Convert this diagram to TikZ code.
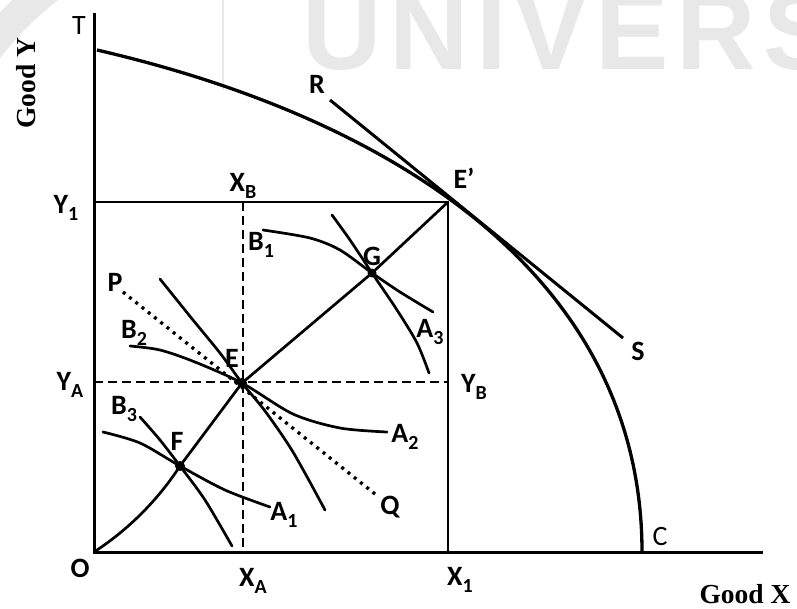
\documentclass[tikz,border=0pt]{standalone}
\usepackage{fontspec}
\setmainfont{Carlito}
\newfontfamily\tnr{Liberation Serif}
\newfontfamily\wmfont{Liberation Sans}
\definecolor{wmgray}{RGB}{232,232,232}
\newcommand\sbs[1]{\raisebox{-0.27em}{\fontsize{20}{20}\selectfont #1}}
\begin{document}
\begin{tikzpicture}[x=1pt,y=-1pt,
  lab/.style={font=\fontsize{28}{30}\selectfont\bfseries, inner sep=0pt},
  labr/.style={font=\fontsize{28}{30}\selectfont, inner sep=0pt},
  axl/.style={font=\tnr\bfseries\fontsize{27.5}{30}\selectfont, inner sep=0pt},
  wml/.style={anchor=base west, text=wmgray, font=\wmfont\bfseries\fontsize{110}{110}\selectfont, inner sep=0pt},
  axis/.style={line width=3pt},
  boxline/.style={line width=2.8pt},
  curve/.style={line width=2.7pt, line cap=round},
  dashln/.style={line width=2.6pt, dash pattern=on 9pt off 5pt},
  dotln/.style={line width=3.3pt, dash pattern=on 3pt off 5pt},
  pt/.style={circle, fill=black, inner sep=0pt, minimum size=10pt}]
\useasboundingbox (0,0) rectangle (797,608);
% watermark
\draw[wmgray, line width=30pt] (250,250) ++(180:330) arc[start angle=180, end angle=270, radius=330];
\draw[wmgray, line width=1.5pt] (223,0) -- (223,90);
\node[wml] (w1) at (302,69) {U};
\node[wml] (w2) at (389,69) {N};
\node[wml] (w3) at (476,69) {I};
\node[wml] (w4) at (514,69) {V};
\node[wml] (w5) at (595,69) {E};
\node[wml] (w6) at (676,69) {R};
\node[wml] (w7) at (763,69) {S};
% coordinates
\coordinate (O) at (94,552);
\coordinate (Ytop) at (94,13);
\coordinate (Xend) at (763,552);
\coordinate (T0) at (97,50);
\coordinate (C0) at (642,552);
\coordinate (Ep) at (448,202);
\coordinate (Y1) at (94,202);
\coordinate (X1) at (448,552);
\coordinate (XBt) at (243,202);
\coordinate (XAb) at (243,552);
\coordinate (YAl) at (94,382);
\coordinate (YBr) at (448,382);
\coordinate (Rend) at (330,100);
\coordinate (Send) at (623,338);
\coordinate (Pend) at (123,292);
\coordinate (Qend) at (375,494);
\coordinate (F) at (180,466);
\coordinate (E) at (242,383);
\coordinate (G) at (372,273);
% axes
\draw[axis] (Ytop) -- (O) -- (Xend);
% PPF
\draw[line width=3.3pt] (T0) .. controls (400,120) and (642,280) .. (C0);
% tangent RS
\draw[line width=3pt] (Rend) -- (Send);
% box
\draw[boxline] (Y1) -- (Ep) -- (X1);
% dashed
\draw[dashln] (XBt) -- (XAb);
\draw[dashln] (YAl) -- (YBr);
% dotted PQ
\draw[dotln] (Pend) -- (Qend);
% contract curve
\draw[curve] (O) .. controls (128,530) and (158,500) .. (F) -- (E) -- (G) -- (Ep);
% indifference curves through F
\draw[curve] plot[smooth] coordinates {(103,432) (140,443) (180,466) (225,490) (270,507)};
\draw[curve] plot[smooth] coordinates {(140,417) (160,440) (180,466) (205,500) (232,546)};
% through E
\draw[curve] plot[smooth] coordinates {(130,346) (160,350) (195,362) (242,383) (293,414) (340,428) (387,432)};
\draw[curve] plot[smooth] coordinates {(160,279) (193,320) (220,353) (242,383) (265,411) (293,452) (325,510)};
% through G
\draw[curve] plot[smooth] coordinates {(263,230) (310,238) (340,250) (372,273) (400,292) (433,312)};
\draw[curve] plot[smooth] coordinates {(332,215) (350,240) (372,273) (397,310) (417,343) (429,373)};
% points
\node[pt] (Fd) at (F) {};
\node[pt] (Ed) at (E) {};
\node[pt, minimum size=9pt] (Gd) at (G) {};
% labels
\node[labr] (lT) at (79,26) {T};
\node[labr] (lC) at (660,537) {C};
\node[axl, rotate=90] (lgy) at (26,83) {Good Y};
\node[axl] (lgx) at (745,594) {Good X};
\node[lab] (lR) at (317,84) {R};
\node[lab] (lS) at (638,351) {S};
\node[lab] (lEp) at (464,178) {E’};
\node[lab] (lY1) at (66,208) {Y\sbs{1}};
\node[lab] (lXB) at (243,186) {X\sbs{B}};
\node[lab] (lB1) at (261,245) {B\sbs{1}};
\node[lab] (lP) at (115,282) {P};
\node[lab] (lB2) at (134,333) {B\sbs{2}};
\node[lab] (lE) at (232,358) {E};
\node[lab] (lYA) at (70,385) {Y\sbs{A}};
\node[lab] (lB3) at (124,409) {B\sbs{3}};
\node[lab] (lG) at (372,256) {G};
\node[lab] (lA3) at (430,332) {A\sbs{3}};
\node[lab] (lYB) at (474,387) {Y\sbs{B}};
\node[lab] (lA2) at (405,437) {A\sbs{2}};
\node[lab] (lF) at (177,441) {F};
\node[lab] (lA1) at (284,515) {A\sbs{1}};
\node[lab] (lQ) at (390,507) {Q};
\node[lab] (lO) at (80,568) {O};
\node[lab] (lXA) at (253,581) {X\sbs{A}};
\node[lab] (lX1) at (460,580) {X\sbs{1}};
\end{tikzpicture}
\end{document}
